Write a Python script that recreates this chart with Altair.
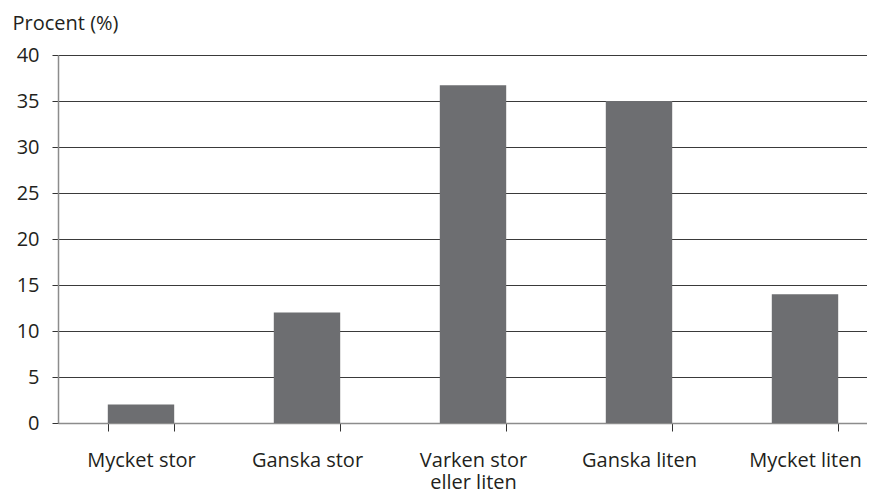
import altair as alt
import pandas as pd

categories = ["Mycket stor", "Ganska stor", "Varken stor|eller liten", "Ganska liten", "Mycket liten"]
values = [2, 12, 36.7, 35, 14]
y_ticks = [0, 5, 10, 15, 20, 25, 30, 35, 40]

df = pd.DataFrame({"kategori": categories, "procent": values})

FONT = "Open Sans"
FS = 20

chart = alt.Chart(df).mark_bar(color="#6d6e71").encode(
    x=alt.X(
        "kategori:N",
        sort=None,
        scale=alt.Scale(paddingInner=0.6, paddingOuter=0.3, range=[0, 830]),
        axis=alt.Axis(
            title=None,
            labelAngle=0,
            labelExpr="split(datum.label, '|')",
            tickBand="extent",
            tickSize=8,
            tickColor="#333333",
            domainColor="#8c8c8c",
            domainWidth=1.5,
            labelPadding=19,
            labelFontSize=FS,
            labelColor="#231f20",
            labelFont=FONT,
            labelLineHeight=22,
            grid=False,
        ),
    ),
    y=alt.Y(
        "procent:Q",
        scale=alt.Scale(domain=[0, 40], nice=False),
        axis=alt.Axis(
            values=y_ticks,
            title="Procent (%)",
            titleAngle=0,
            titleAlign="left",
            titleBaseline="alphabetic",
            titleX=-46,
            titleY=-26,
            titleFontSize=FS,
            titleFontWeight="normal",
            titleFont=FONT,
            titleColor="#231f20",
            tickSize=6,
            tickColor="#333333",
            labelPadding=13,
            labelFontSize=FS,
            labelFont=FONT,
            labelColor="#231f20",
            domainColor="#8c8c8c",
            domainWidth=1.5,
            gridColor="#3a3a3a",
            gridWidth=1,
        ),
    ),
).properties(
    width=809,
    height=368,
    autosize=alt.AutoSizeParams(type="none"),
    padding={"left": 50, "top": 47, "right": 0, "bottom": 78},
).configure_view(stroke=None)

chart.save("out.html", embed_options={"renderer": "svg", "actions": False})
